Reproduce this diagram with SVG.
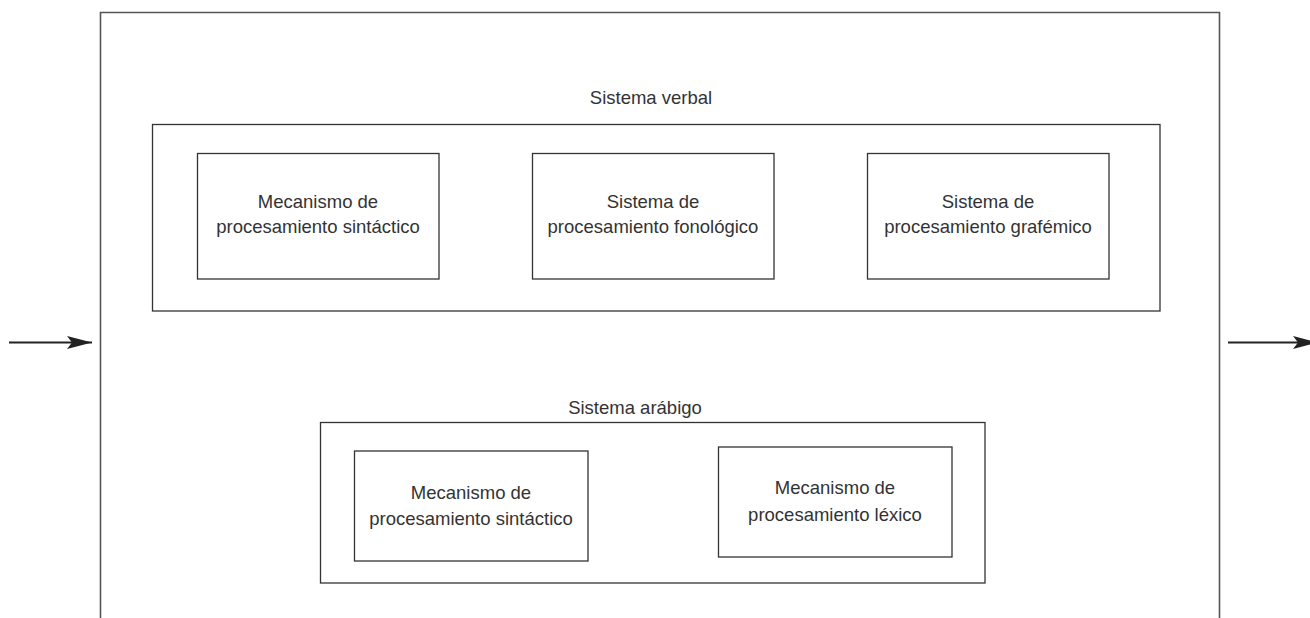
<svg xmlns="http://www.w3.org/2000/svg" width="1310" height="618" viewBox="0 0 1310 618">
  <style>
    .outer { fill: none; stroke: #555; stroke-width: 1.6; }
    .grp { fill: none; stroke: #333; stroke-width: 1.3; }
    .box { fill: #fff; stroke: #333; stroke-width: 1.3; }
    .t { font-family: "Liberation Sans", Arial, sans-serif; font-size: 18.5px; fill: #333; text-anchor: middle; }
    .conn { stroke: #222; stroke-width: 2.2; fill: none; }
  </style>
  <defs>
    <marker id="ah" markerUnits="userSpaceOnUse" markerWidth="28" markerHeight="16" refX="25" refY="8" orient="auto">
      <path d="M0,1.5 L25,8 L0,14.5 L5,8 Z" fill="#222"/>
    </marker>
  </defs>
  <rect width="1310" height="618" fill="#fff"/>

  <g id="sistema-central">
    <path class="outer" d="M100.5,630 L100.5,12.5 L1219.5,12.5 L1219.5,630"/>
  </g>

  <g id="sistema-verbal">
    <text class="t" x="651" y="104">Sistema verbal</text>
    <rect class="grp" x="152.5" y="124.5" width="1007.5" height="186.5"/>
  </g>
  <g id="verbal-sintactico">
    <rect class="box" x="197.5" y="153.5" width="241.5" height="125.5"/>
    <text class="t" x="318" y="208">Mecanismo de</text>
    <text class="t" x="318" y="233">procesamiento sintáctico</text>
  </g>
  <g id="verbal-fonologico">
    <rect class="box" x="532.5" y="153.5" width="241.5" height="125.5"/>
    <text class="t" x="653" y="208">Sistema de</text>
    <text class="t" x="653" y="233">procesamiento fonológico</text>
  </g>
  <g id="verbal-grafemico">
    <rect class="box" x="867.5" y="153.5" width="241.5" height="125.5"/>
    <text class="t" x="988" y="208">Sistema de</text>
    <text class="t" x="988" y="233">procesamiento grafémico</text>
  </g>

  <g id="sistema-arabigo">
    <text class="t" x="635" y="414">Sistema arábigo</text>
    <rect class="grp" x="320.5" y="422.5" width="664.5" height="160.5"/>
  </g>
  <g id="arabigo-sintactico">
    <rect class="box" x="354.5" y="451" width="233.5" height="110"/>
    <text class="t" x="471" y="499">Mecanismo de</text>
    <text class="t" x="471" y="525">procesamiento sintáctico</text>
  </g>
  <g id="arabigo-lexico">
    <rect class="box" x="718.5" y="447" width="233.5" height="110"/>
    <text class="t" x="835" y="494">Mecanismo de</text>
    <text class="t" x="835" y="521">procesamiento léxico</text>
  </g>

  <g id="connectors">
    <line class="conn" x1="9" y1="342.5" x2="92" y2="342.5" marker-end="url(#ah)"/>
    <line class="conn" x1="1228" y1="342.5" x2="1318" y2="342.5" marker-end="url(#ah)"/>
  </g>
</svg>
